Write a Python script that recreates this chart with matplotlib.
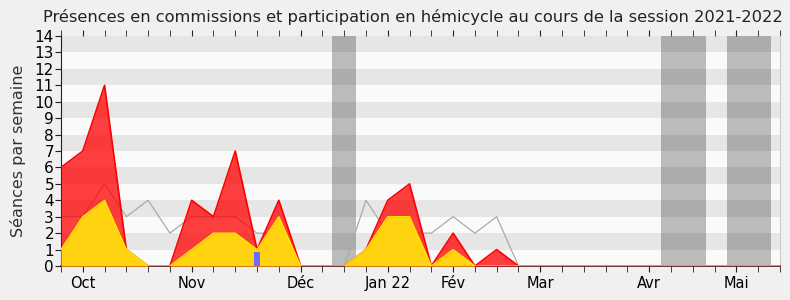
import matplotlib

matplotlib.use("Agg")
import matplotlib.pyplot as plt
import numpy as np

# weekly values, week 0 = first week of the session
hemicycle = [6, 7, 11, 1, 0, 0, 4, 3, 7, 1, 4, 0, 0, 0, 1, 4, 5, 0, 2, 0, 1, 0,
             0, 0, 0, 0, 0, 0, 0, 0, 0, 0, 0, 0]
commissions = [1, 3, 4, 1, 0, 0, 1, 2, 2, 1, 3, 0, 0, 0, 1, 3, 3, 0, 1, 0, 0, 0,
               0, 0, 0, 0, 0, 0, 0, 0, 0, 0, 0, 0]
mediane = [3, 3, 5, 3, 4, 2, 3, 3, 3, 2, 2, 0, 0, 0, 4, 2, 2, 2, 3, 2, 3, 0,
           0, 0, 0, 0, 0, 0, 0, 0, 0, 0, 0, 0]
questions_week = [9]
questions_val = [0.87]
vacances = [(12.45, 13.55), (27.55, 29.6), (30.55, 32.6)]
month_ticks = [1, 6, 11, 15, 18, 22, 27, 31]
month_labels = ["Oct", "Nov", "Déc", "Jan 22", "Fév", "Mar", "Avr", "Mai"]

weeks = np.arange(len(hemicycle))

fig = plt.figure(figsize=(7.9, 3.0), dpi=100, facecolor="#f0f0f0")
ax = fig.add_axes([0.0772, 0.1133, 0.910, 0.7667], facecolor="#fafafa")

for y0 in range(1, 14, 2):
    ax.axhspan(y0, y0 + 1, color="#e6e6e6", lw=0, zorder=0)
for a, b in vacances:
    ax.axvspan(a, b, color="black", alpha=0.25, lw=0, zorder=1)

ax.plot(weeks, mediane, color="#aaaaaa", lw=0.9, zorder=2)
ax.fill_between(weeks, 0, hemicycle, color="#ff0000", alpha=0.75, lw=0, zorder=3)
ax.plot(weeks, hemicycle, color="#ff0000", lw=1.2, zorder=4)
ax.fill_between(weeks, 0, commissions, color="#ffd30f", lw=0, zorder=5)
ax.plot(weeks, commissions, color="#ffe800", lw=1.0, zorder=6)
ax.bar(questions_week, questions_val, width=0.3, color="#6b6bff", zorder=7)

ax.set_xlim(0, 33)
ax.set_ylim(0, 14)
ax.set_yticks(range(15))
ax.set_xticks(range(34), minor=True)
ax.set_xticks(month_ticks)
ax.set_xticklabels(month_labels)
ax.tick_params(axis="x", which="both", length=4, top=True, direction="out",
               labelsize=10.5, color="#222222")
ax.tick_params(axis="y", length=4, labelsize=11, color="#222222", pad=1)
ax.spines["top"].set_visible(False)
ax.spines["right"].set_color("#cccccc")
ax.spines["left"].set_color("#222222")
ax.spines["bottom"].set_color("#5a1010")
ax.spines["bottom"].set_linewidth(1.2)

ax.set_ylabel("Séances par semaine", fontsize=11.5, color="#333333", labelpad=6)
fig.text(0.523, 0.943, "Présences en commissions et participation en hémicycle au cours de la session 2021-2022",
         fontsize=11.7, color="#222222", ha="center", va="center")

fig.savefig("out.png", dpi=100, facecolor=fig.get_facecolor())
